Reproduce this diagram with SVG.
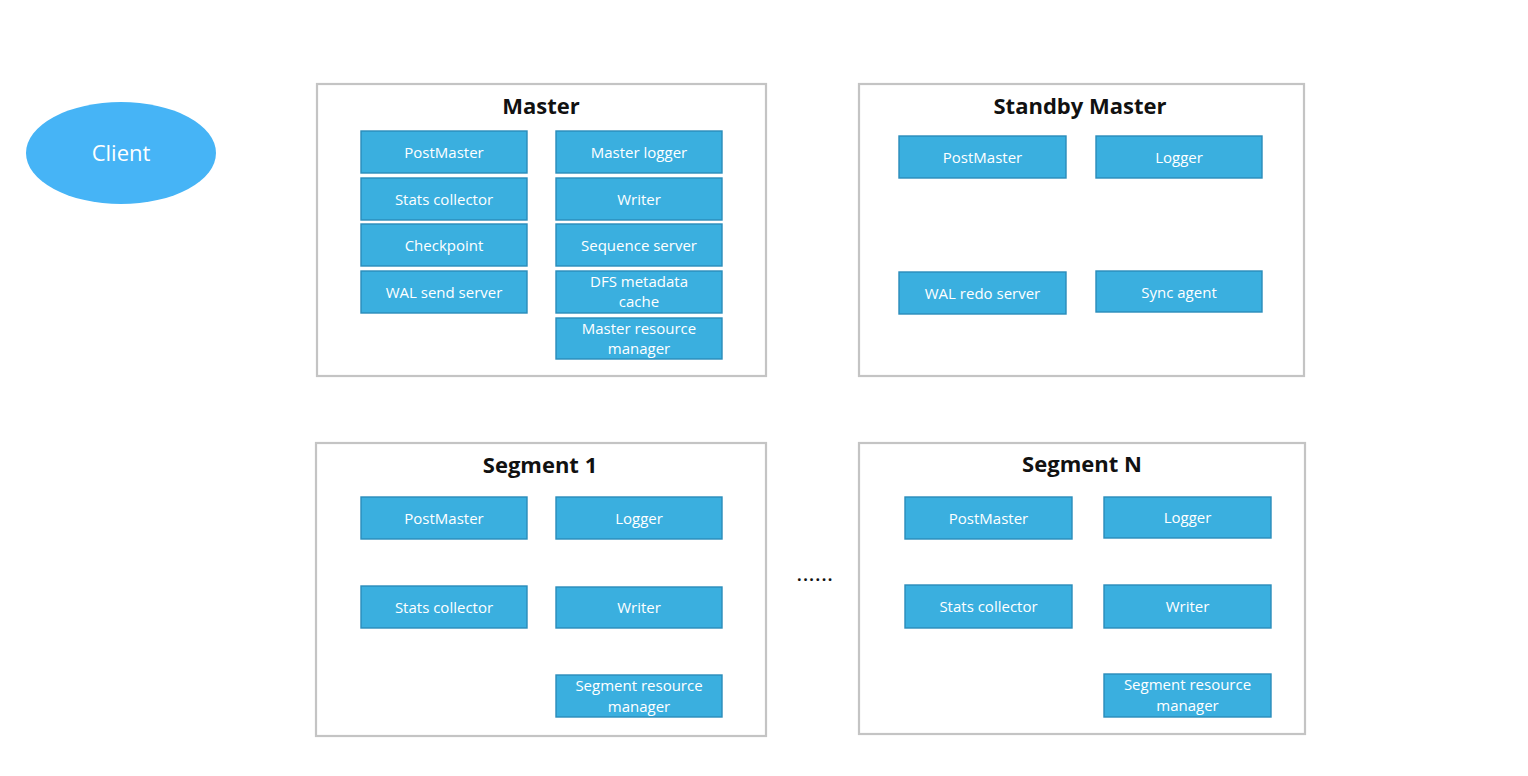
<svg xmlns="http://www.w3.org/2000/svg" width="1528" height="776" viewBox="0 0 1528 776">
<style>
.panel{fill:#ffffff;stroke:#c4c4c4;stroke-width:2.2}
.box{fill:#3aafdf;stroke:#2a8cba;stroke-width:1.4}
.t{font-family:"Open Sans","Liberation Sans",sans-serif;font-size:15px;fill:#ffffff;text-anchor:middle}
.title{font-family:"Open Sans","Liberation Sans",sans-serif;font-size:22px;font-weight:bold;fill:#111111;text-anchor:middle}
.client{fill:#46b4f6}
.ct{font-family:"Open Sans","Liberation Sans",sans-serif;font-size:22px;fill:#ffffff;text-anchor:middle}
</style>
<rect width="1528" height="776" fill="#ffffff"/>
<g id="client">
<ellipse class="client" cx="121" cy="153" rx="95" ry="51"/>
<text class="ct" x="121" y="161">Client</text>
</g>
<g id="master">
<rect class="panel" x="317" y="84" width="449" height="292"/>
<text class="title" x="541" y="114">Master</text>
<g id="m-postmaster"><rect class="box" x="361" y="131" width="166" height="42"/><text class="t" x="444" y="158">PostMaster</text></g>
<g id="m-stats"><rect class="box" x="361" y="178" width="166" height="42"/><text class="t" x="444" y="205">Stats collector</text></g>
<g id="m-checkpoint"><rect class="box" x="361" y="224" width="166" height="42"/><text class="t" x="444" y="251">Checkpoint</text></g>
<g id="m-walsend"><rect class="box" x="361" y="271" width="166" height="42"/><text class="t" x="444" y="298">WAL send server</text></g>
<g id="m-logger"><rect class="box" x="556" y="131" width="166" height="42"/><text class="t" x="639" y="158">Master logger</text></g>
<g id="m-writer"><rect class="box" x="556" y="178" width="166" height="42"/><text class="t" x="639" y="205">Writer</text></g>
<g id="m-seq"><rect class="box" x="556" y="224" width="166" height="42"/><text class="t" x="639" y="251">Sequence server</text></g>
<g id="m-dfs"><rect class="box" x="556" y="271" width="166" height="42"/><text class="t" x="639" y="287">DFS metadata</text><text class="t" x="639" y="307">cache</text></g>
<g id="m-mrm"><rect class="box" x="556" y="318" width="166" height="41"/><text class="t" x="639" y="334">Master resource</text><text class="t" x="639" y="354">manager</text></g>
</g>
<g id="standby">
<rect class="panel" x="859" y="84" width="445" height="292"/>
<text class="title" x="1080" y="114">Standby Master</text>
<g id="s-postmaster"><rect class="box" x="899" y="136" width="167" height="42"/><text class="t" x="982.5" y="163">PostMaster</text></g>
<g id="s-logger"><rect class="box" x="1096" y="136" width="166" height="42"/><text class="t" x="1179" y="163">Logger</text></g>
<g id="s-walredo"><rect class="box" x="899" y="272" width="167" height="42"/><text class="t" x="982.5" y="299">WAL redo server</text></g>
<g id="s-sync"><rect class="box" x="1096" y="271" width="166" height="41"/><text class="t" x="1179" y="298">Sync agent</text></g>
</g>
<g id="segment1">
<rect class="panel" x="316" y="443" width="450" height="293"/>
<text class="title" x="540" y="473">Segment 1</text>
<g id="s1-postmaster"><rect class="box" x="361" y="497" width="166" height="42"/><text class="t" x="444" y="524">PostMaster</text></g>
<g id="s1-logger"><rect class="box" x="556" y="497" width="166" height="42"/><text class="t" x="639" y="524">Logger</text></g>
<g id="s1-stats"><rect class="box" x="361" y="586" width="166" height="42"/><text class="t" x="444" y="613">Stats collector</text></g>
<g id="s1-writer"><rect class="box" x="556" y="587" width="166" height="41"/><text class="t" x="639" y="613">Writer</text></g>
<g id="s1-srm"><rect class="box" x="556" y="675" width="166" height="42"/><text class="t" x="639" y="691">Segment resource</text><text class="t" x="639" y="712">manager</text></g>
</g>
<g id="segmentN">
<rect class="panel" x="859" y="443" width="446" height="291"/>
<text class="title" x="1082" y="472">Segment N</text>
<g id="sn-postmaster"><rect class="box" x="905" y="497" width="167" height="42"/><text class="t" x="988.5" y="524">PostMaster</text></g>
<g id="sn-logger"><rect class="box" x="1104" y="497" width="167" height="41"/><text class="t" x="1187.5" y="523">Logger</text></g>
<g id="sn-stats"><rect class="box" x="905" y="585" width="167" height="43"/><text class="t" x="988.5" y="612">Stats collector</text></g>
<g id="sn-writer"><rect class="box" x="1104" y="585" width="167" height="43"/><text class="t" x="1187.5" y="612">Writer</text></g>
<g id="sn-srm"><rect class="box" x="1104" y="674" width="167" height="43"/><text class="t" x="1187.5" y="690">Segment resource</text><text class="t" x="1187.5" y="711">manager</text></g>
</g>
<g id="ellipsis">
<text x="797" y="581" font-family="Open Sans, Liberation Sans, sans-serif" font-size="16" font-weight="bold" fill="#111111" letter-spacing="1.6">......</text>
</g>
<g id="connectors"></g>
</svg>
